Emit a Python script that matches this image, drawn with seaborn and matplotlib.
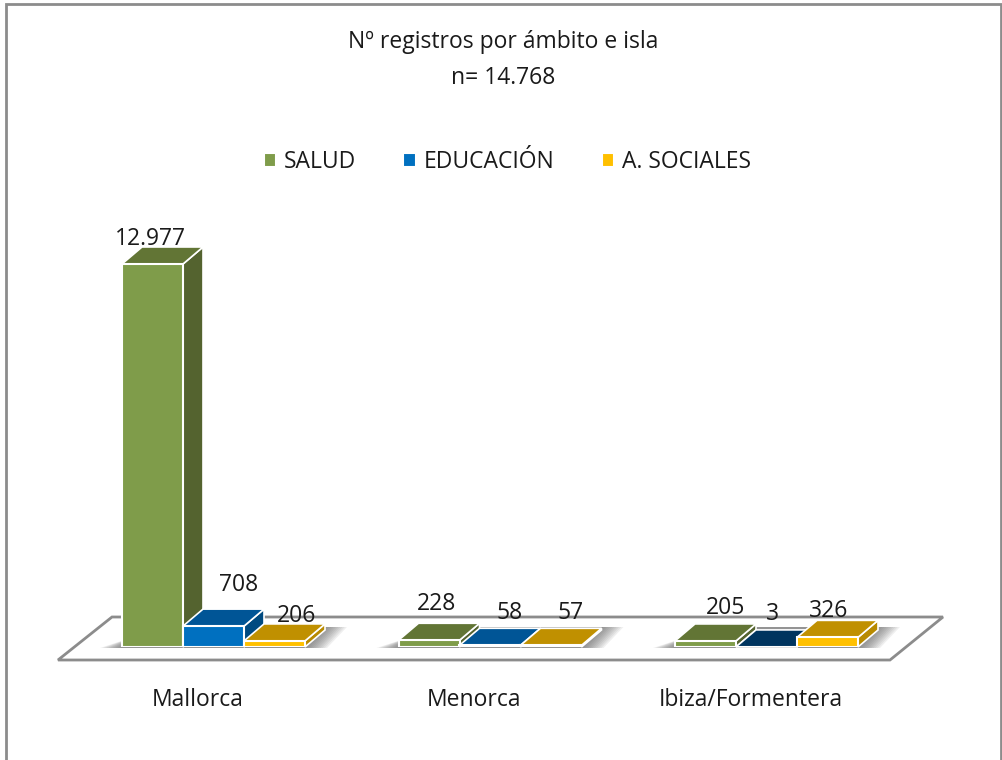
import matplotlib
matplotlib.use("Agg")
import matplotlib.pyplot as plt
from matplotlib.patches import Polygon, Rectangle
from matplotlib.transforms import ScaledTranslation, IdentityTransform
import seaborn as sns
import pandas as pd

islands = ["Mallorca", "Menorca", "Ibiza/Formentera"]
ambitos = ["SALUD", "EDUCACIÓN", "A. SOCIALES"]
salud = [12977, 228, 205]
educacion = [708, 58, 3]
sociales = [206, 57, 326]

front_colors = ["#7F9C4A", "#0070C0", "#FFC000"]
top_colors = ["#627535", "#005596", "#C09000"]
side_colors = ["#54632F", "#004A80", "#B88A00"]

# label offsets from the top centre of each front face, in pixels
label_offsets = [(-2, 25), (25, 41), (22, 25), (8, 36), (20, 32), (20, 32), (20, 33), (6, 33), (1, 26)]

W, H = 1002, 760
BASE_Y = 647
PX_PER_UNIT = 383 / 12977
DX, DY = 20, 17
FONT = 16.5

sns.set_theme(style="white")
plt.rcParams["font.family"] = ["Open Sans", "DejaVu Sans"]

df = pd.DataFrame({
    "isla": islands * 3,
    "ambito": [a for a in ambitos for _ in islands],
    "valor": salud + educacion + sociales,
})

fig = plt.figure(figsize=(W / 100, H / 100), dpi=100)
ax = fig.add_axes([0, (H - BASE_Y) / H, 1, BASE_Y / H])
sns.barplot(
    data=df, x="isla", y="valor", hue="ambito", order=islands, hue_order=ambitos,
    palette=dict(zip(ambitos, front_colors)), width=183 / 276.5, saturation=1,
    edgecolor="white", linewidth=1.5, ax=ax,
)
ax.set_xlim(-213.5 / 276.5, (W - 213.5) / 276.5)
ax.set_ylim(0, BASE_Y / PX_PER_UNIT)
ax.set_xlabel("")
ax.set_ylabel("")
ax.set_yticks([])
ax.patch.set_alpha(0)
sns.despine(ax=ax, left=True, bottom=True)
ax.tick_params(axis="x", length=0, pad=29.5, labelsize=FONT)
shift = ScaledTranslation(-16 / 100, 0, fig.dpi_scale_trans)
for lab in ax.get_xticklabels():
    lab.set_transform(lab.get_transform() + shift)
    lab.set_color("#1a1a1a")

fig.canvas.draw()
bars = sorted([b for c in ax.containers for b in c], key=lambda p: p.get_x())
boxes = [ax.transData.transform([(b.get_x(), 0), (b.get_x() + b.get_width(), b.get_height())]) for b in bars]


def px(points):
    return [(x, H - y) for x, y in points]


def add_poly(points, zorder, **kw):
    ax.add_patch(Polygon(px(points), closed=True, transform=IdentityTransform(),
                         clip_on=False, zorder=zorder, **kw))


# outer frame
fig.add_artist(Rectangle((5.5 / W, -0.05), (1001 - 5.5) / W, 1.05 - 4 / H, fill=False,
                         edgecolor="#8c8c8c", linewidth=2, transform=fig.transFigure))

# floor of the 3d chart
add_poly([(58, 660), (890, 660), (943, 617), (112, 617)], 0.5,
         facecolor="white", edgecolor="#8c8c8c", linewidth=2)

# soft shadows round each group
for g in range(len(islands)):
    x0 = boxes[g * 3][0][0]
    x1 = boxes[g * 3 + 2][1][0]
    for k in range(10, 0, -1):
        add_poly([(x0 - 2.2 * k, BASE_Y + 1), (x1 + 2.2 * k, BASE_Y + 1),
                  (x1 + DX + 2.2 * k, BASE_Y - 20), (x0 + DX + 2.2 * k, BASE_Y - 20)],
                 0.6, facecolor="#555555", edgecolor="none", alpha=0.09)

# top and side faces, from the bars that seaborn placed
for i, (bar, box) in enumerate(zip(bars, boxes)):
    level = i % 3
    xa, xb = box[0][0], box[1][0]
    ytop = H - box[1][1]
    z = 2 + i * 0.1
    top = top_colors[level]
    if bar.get_height() < 10:
        top = "#00355F"
    add_poly([(xb, BASE_Y), (xb + DX, BASE_Y - DY), (xb + DX, ytop - DY), (xb, ytop)], z,
             facecolor=side_colors[level], edgecolor="white", linewidth=1.2)
    add_poly([(xa, ytop), (xb, ytop), (xb + DX, ytop - DY), (xa + DX, ytop - DY)], z + 0.01,
             facecolor=top, edgecolor="white", linewidth=1.2)
    bar.set_zorder(z + 0.02)
    value = int(round(bar.get_height()))
    ox, oy = label_offsets[i]
    ax.annotate(f"{value:,}".replace(",", "."),
                (bar.get_x() + bar.get_width() / 2, bar.get_height()),
                xytext=(ox, oy), textcoords="offset pixels", ha="center", va="center",
                fontsize=FONT, color="#1a1a1a", zorder=10, annotation_clip=False)

# legend
ax.legend(
    *ax.get_legend_handles_labels(), loc="center", bbox_to_anchor=(507.5 / W, (H - 162) / H),
    bbox_transform=fig.transFigure, ncol=3, frameon=False, fontsize=FONT,
    handlelength=0.55, handleheight=0.55, handletextpad=0.35, columnspacing=2.05,
    labelcolor="#1a1a1a",
)

fig.text(503 / W, 1 - 42 / H, "Nº registros por ámbito e isla", ha="center", va="center",
         fontsize=FONT, color="#1a1a1a")
fig.text(503 / W, 1 - 78 / H, "n= 14.768", ha="center", va="center",
         fontsize=FONT, color="#1a1a1a")

fig.savefig("out.png", dpi=100, facecolor="white")
